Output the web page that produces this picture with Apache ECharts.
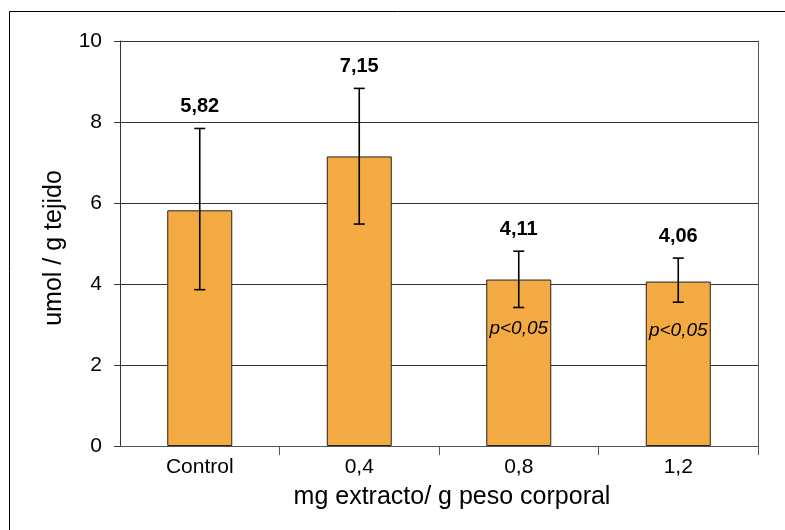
<!DOCTYPE html>
<html>
<head>
<meta charset="utf-8">
<script src="https://cdn.jsdelivr.net/npm/echarts@6/dist/echarts.min.js"></script>
<style>html,body{margin:0;padding:0;background:#fff}#c{width:785px;height:530px}</style>
</head>
<body>
<div id="c"></div>
<script>
const categories = ['Control', '0,4', '0,8', '1,2'];
const means = [5.82, 7.15, 4.11, 4.06];
const errLow = [3.86, 5.48, 3.42, 3.55];
const errHigh = [7.84, 8.83, 4.81, 4.64];
const valueLabels = ['5,82', '7,15', '4,11', '4,06'];
const pNotes = ['', '', 'p<0,05', 'p<0,05'];
const yTicks = [0, 2, 4, 6, 8, 10];

const NARROW = "'Liberation Sans Narrow','Arial Narrow','Liberation Sans',Arial,sans-serif";
const SANS = "'Liberation Sans',Arial,sans-serif";

const chart = echarts.init(document.getElementById('c'), null, {renderer: 'canvas'});
const option = {
  animation: false,
  backgroundColor: '#ffffff',
  graphic: [{
    type: 'rect', left: 7, top: 9, z: -1,
    shape: {width: 800, height: 600},
    style: {fill: 'none', stroke: '#000', lineWidth: 1}
  }],
  grid: {left: 120, right: 27, top: 41, bottom: 84, show: false},
  xAxis: {
    type: 'category',
    data: categories,
    boundaryGap: true,
    name: 'mg extracto/ g peso corporal',
    nameLocation: 'middle',
    nameGap: 39,
    nameTextStyle: {fontFamily: NARROW, fontSize: 25, color: '#000', padding: [0, 0, 0, 26]},
    axisLine: {show: true, lineStyle: {color: '#555', width: 1}},
    axisTick: {show: true, length: 9, interval: function (i) { return i > 0; }, lineStyle: {color: '#555'}},
    axisLabel: {fontFamily: NARROW, fontSize: 21, color: '#000', margin: 11},
    splitLine: {show: false}
  },
  yAxis: [{
    type: 'value',
    min: yTicks[0], max: yTicks[yTicks.length - 1], interval: 2,
    name: 'umol / g tejido',
    nameLocation: 'middle',
    nameGap: 53,
    nameRotate: 90,
    nameTextStyle: {fontFamily: NARROW, fontSize: 25, color: '#000', padding: [0, 9, 0, 0]},
    axisLine: {show: true, lineStyle: {color: '#333', width: 1}},
    axisTick: {show: true, length: 6, lineStyle: {color: '#333'}},
    axisLabel: {fontFamily: NARROW, fontSize: 21, color: '#000', margin: 18},
    splitLine: {show: true, lineStyle: {color: '#333', width: 1}}
  }, {
    type: 'value',
    position: 'right',
    min: yTicks[0], max: yTicks[yTicks.length - 1], interval: 2,
    axisLine: {show: true, lineStyle: {color: '#555', width: 1}},
    axisTick: {show: false},
    axisLabel: {show: false},
    splitLine: {show: false}
  }],
  series: [{
    type: 'bar',
    data: means,
    barWidth: 65,
    itemStyle: {color: '#F4AA42', borderColor: '#222', borderWidth: 1},
    z: 2
  }, {
    type: 'custom',
    z: 5,
    data: categories.map((c, i) => [i, errLow[i], errHigh[i], means[i]]),
    renderItem: function (params, api) {
      const i = api.value(0);
      const lo = api.coord([i, api.value(1)]);
      const hi = api.coord([i, api.value(2)]);
      const top = api.coord([i, api.value(3)]);
      const cap = 5.5;
      const ls = {stroke: '#000', lineWidth: 1.6};
      const children = [
        {type: 'line', shape: {x1: hi[0], y1: hi[1], x2: lo[0], y2: lo[1]}, style: ls},
        {type: 'line', shape: {x1: hi[0] - cap, y1: hi[1], x2: hi[0] + cap, y2: hi[1]}, style: ls},
        {type: 'line', shape: {x1: lo[0] - cap, y1: lo[1], x2: lo[0] + cap, y2: lo[1]}, style: ls},
        {type: 'text', x: hi[0], y: hi[1] - 22,
          style: {text: valueLabels[params.dataIndex], fontFamily: SANS, fontWeight: 'bold', fontSize: 20,
            fill: '#000', align: 'center', verticalAlign: 'middle'}}
      ];
      if (pNotes[params.dataIndex]) {
        children.push({type: 'text', x: top[0], y: top[1] + 49,
          style: {text: pNotes[params.dataIndex], fontFamily: NARROW, fontStyle: 'italic', fontSize: 19,
            fill: '#000', align: 'center', verticalAlign: 'middle'}});
      }
      return {type: 'group', children: children};
    }
  }]
};
chart.setOption(option);
</script>
</body>
</html>
